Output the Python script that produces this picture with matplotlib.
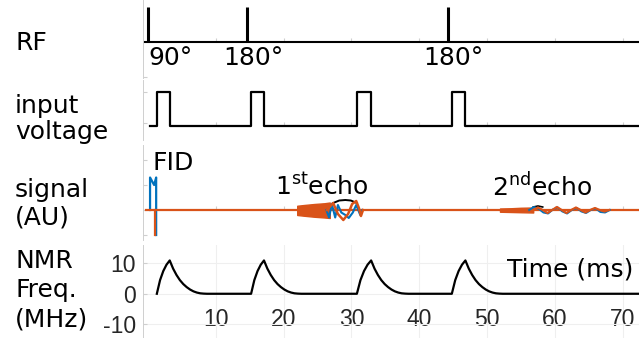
import matplotlib
matplotlib.use("Agg")
import matplotlib.pyplot as plt
import numpy as np

W, H = 639, 338

# pulse sequence timing (ms)
rf_times = [0.0, 14.6, 44.2]
rf_labels = ["90°", "180°", "180°"]
pulse_start = [1.3, 15.2, 30.8, 44.8]
pulse_end = [3.2, 17.1, 32.9, 46.8]
t_max = 72.4

# NMR frequency shape around one pulse (relative times, MHz)
rise_frac = [0.0, 0.25, 0.5, 0.75, 1.0]
rise_freq = [0.0, 4.5, 7.5, 9.6, 11.0]
decay_dt = [0.5, 1.0, 1.5, 2.0, 2.5, 3.0, 3.5, 4.0, 4.5, 5.0, 5.5]
decay_freq = [8.3, 6.2, 4.5, 3.2, 2.2, 1.4, 0.8, 0.4, 0.15, 0.05, 0.0]

# FID trace
fid_t = [0.3, 0.3, 0.9, 1.2, 1.2]
fid_v = [0.0, 1.3, 1.0, 1.3, -1.0]
fid_orange_t = [1.0, 1.0]
fid_orange_v = [0.0, -1.0]

# echo envelopes (AU)
echo1_env_t = [22.0, 23.0, 24.5, 26.0, 26.8]
echo1_env_hi = [0.17, 0.20, 0.24, 0.27, 0.30]
echo1_env_lo = [-0.20, -0.23, -0.27, -0.30, -0.32]
echo2_env_t = [51.9, 53.5, 55.0, 56.8]
echo2_env_hi = [0.06, 0.07, 0.09, 0.10]
echo2_env_lo = [-0.07, -0.08, -0.09, -0.10]

# echo oscillations (AU)
echo1_or_t = [26.4, 27.3, 28.0, 28.8, 29.5, 30.1, 30.7, 31.1, 31.4, 31.7]
echo1_or_v = [0.0, 0.28, -0.16, -0.40, -0.16, 0.24, 0.36, 0.08, -0.24, 0.0]
echo1_bl_t = [26.3, 26.7, 27.1, 27.6, 28.0, 28.5, 29.1, 29.6, 30.2, 30.7, 31.0, 31.3, 31.6]
echo1_bl_v = [0.0, -0.30, 0.25, -0.30, 0.20, -0.10, -0.20, -0.32, -0.10, 0.20, 0.0, -0.20, 0.0]
echo1_bk_t = [27.3, 28.2, 29.1, 29.9, 30.8]
echo1_bk_v = [0.28, 0.38, 0.40, 0.38, 0.28]
echo2_or_t = [56.8, 57.5, 58.2, 58.9, 59.6, 60.3, 61.0, 61.7, 62.4, 63.1, 63.8,
              64.5, 65.2, 65.9, 66.6, 67.3, 68.0]
echo2_or_v = [0.0, 0.10, 0.0, -0.12, 0.0, 0.12, 0.0, -0.12, 0.0, 0.10, 0.0,
              -0.10, 0.0, 0.08, 0.0, -0.06, 0.0]
echo2_bl_t = [56.2, 56.9, 57.6, 58.3, 59.0, 59.7, 60.4, 61.1, 61.8, 62.5, 63.2,
              63.9, 64.6, 65.3, 66.0, 66.7, 67.4, 68.1]
echo2_bl_v = [0.0, 0.12, 0.05, -0.10, -0.14, 0.02, 0.10, -0.06, -0.14, 0.0,
              0.08, -0.06, -0.12, 0.0, 0.06, -0.08, -0.10, 0.0]
echo2_bk_t = [56.8, 57.5, 58.2]
echo2_bk_v = [0.12, 0.16, 0.12]

xticks = [10, 20, 30, 40, 50, 60, 70]
freq_ticks = [-10, 0, 10]

BLUE = "#0072BD"
ORANGE = "#D95319"
GRAY = "#cfcfcf"
LABEL_FS = 18
TICK_FONT = ["Liberation Sans", "DejaVu Sans"]

plt.rcParams["font.family"] = ["DejaVu Sans"]
plt.rcParams["axes.unicode_minus"] = False

fig = plt.figure(figsize=(W / 100, H / 100), dpi=100)


def box(top, bottom, left=143, right=W):
    return [left / W, 1 - bottom / H, (right - left) / W, (bottom - top) / H]


def fig_text(x, y, s, **kw):
    fig.text(x / W, 1 - y / H, s, fontsize=LABEL_FS, va="baseline", **kw)


def strip(ax, yticks):
    ax.set_xlim(-0.74, t_max)
    for side in ["top", "right", "bottom"]:
        ax.spines[side].set_visible(False)
    ax.spines["left"].set_color(GRAY)
    ax.spines["left"].set_linewidth(0.7)
    ax.spines["bottom"].set_position(("data", 0))
    ax.set_xticks(xticks)
    ax.set_yticks(yticks)
    ax.tick_params(axis="both", direction="in", color=GRAY, length=3,
                   labelbottom=False, labelleft=False)
    ax.patch.set_alpha(0)


# RF pulses
ax_rf = fig.add_axes(box(0, 78))
strip(ax_rf, [-1])
ax_rf.set_ylim(-1.03, 1.2)
ax_rf.axhline(0, color="black", lw=1.5)
ax_rf.vlines(rf_times, 0, 1, color="black", lw=2.2)
for i, (t, lab) in enumerate(zip(rf_times, rf_labels)):
    if i == 0:
        ax_rf.text(t, -0.47, lab, ha="left", va="center", fontsize=LABEL_FS)
    else:
        ax_rf.text(t + 0.9, -0.47, lab, ha="center", va="center", fontsize=LABEL_FS)

# input voltage
ax_in = fig.add_axes(box(80, 140))
strip(ax_in, [0.1, 1])
ax_in.set_ylim(-0.41, 1.35)
vt, vv = [0.3], [0.0]
for s, e in zip(pulse_start, pulse_end):
    vt += [s, s, e, e]
    vv += [0, 1, 1, 0]
vt.append(t_max)
vv.append(0)
ax_in.plot(vt, vv, color="black", lw=1.6)

# detected signal
ax_sig = fig.add_axes(box(145, 240))
strip(ax_sig, [-1, 0, 1, 2])
ax_sig.set_ylim(-1.2, 2.6)
ax_sig.plot(fid_t, fid_v, color=BLUE, lw=1.6)
ax_sig.plot([-0.3, t_max], [0, 0], color=ORANGE, lw=1.6)
ax_sig.plot(fid_orange_t, fid_orange_v, color=ORANGE, lw=1.6)
ax_sig.fill_between(echo1_env_t, echo1_env_lo, echo1_env_hi, color=ORANGE, lw=1)
ax_sig.fill_between(echo2_env_t, echo2_env_lo, echo2_env_hi, color=ORANGE, lw=1)
ax_sig.plot(echo1_bk_t, echo1_bk_v, color="black", lw=1.4)
ax_sig.plot(echo2_bk_t, echo2_bk_v, color="black", lw=1.2)
ax_sig.plot(echo1_bl_t, echo1_bl_v, color=BLUE, lw=1.5)
ax_sig.plot(echo1_or_t, echo1_or_v, color=ORANGE, lw=1.8)
ax_sig.plot(echo2_bl_t, echo2_bl_v, color=BLUE, lw=1.4)
ax_sig.plot(echo2_or_t, echo2_or_v, color=ORANGE, lw=1.6)
ax_sig.text(0.6, 1.9, "FID", ha="left", va="center", fontsize=LABEL_FS)
ax_sig.text(18.7, 0.92, r"1$^{\rm st}$echo", ha="left", va="center", fontsize=LABEL_FS)
ax_sig.text(50.7, 0.92, r"2$^{\rm nd}$echo", ha="left", va="center", fontsize=LABEL_FS)

# NMR frequency
ax_f = fig.add_axes(box(245, 338))
ax_f.set_xlim(-0.74, t_max)
ax_f.set_ylim(-14.6, 16.1)
ft, fv = [], []
for s, e in zip(pulse_start, pulse_end):
    ft += [s + r * (e - s) for r in rise_frac]
    fv += rise_freq
    ft += [e + d for d in decay_dt]
    fv += decay_freq
ft.append(t_max)
fv.append(0)
ax_f.plot(ft, fv, color="black", lw=1.6)
for side in ["top", "right", "bottom"]:
    ax_f.spines[side].set_visible(False)
ax_f.spines["left"].set_color(GRAY)
ax_f.spines["left"].set_linewidth(0.7)
ax_f.set_xticks(xticks)
ax_f.set_yticks(freq_ticks)
ax_f.grid(True, color="#efefef", lw=0.8)
ax_f.set_axisbelow(True)
ax_f.tick_params(axis="y", direction="in", color=GRAY, length=3, pad=5,
                 labelsize=16.5, labelcolor="#262626")
ax_f.tick_params(axis="x", length=0, pad=-21.5, labelsize=16.5,
                 labelcolor="#262626")
for lab in ax_f.get_xticklabels() + ax_f.get_yticklabels():
    lab.set_family(TICK_FONT)
ax_f.text(52.9, 8.0, "Time (ms)", ha="left", va="center", fontsize=LABEL_FS)
ax_f.patch.set_alpha(0)

# row labels on the left
fig_text(15, 50, "RF")
fig_text(15, 113, "input")
fig_text(15, 139, "voltage")
fig_text(15, 197, "signal")
fig_text(15, 225, "(AU)")
fig_text(15, 268, "NMR")
fig_text(15, 297, "Freq.")
fig_text(15, 327, "(MHz)")

fig.savefig("out.png", dpi=100)
